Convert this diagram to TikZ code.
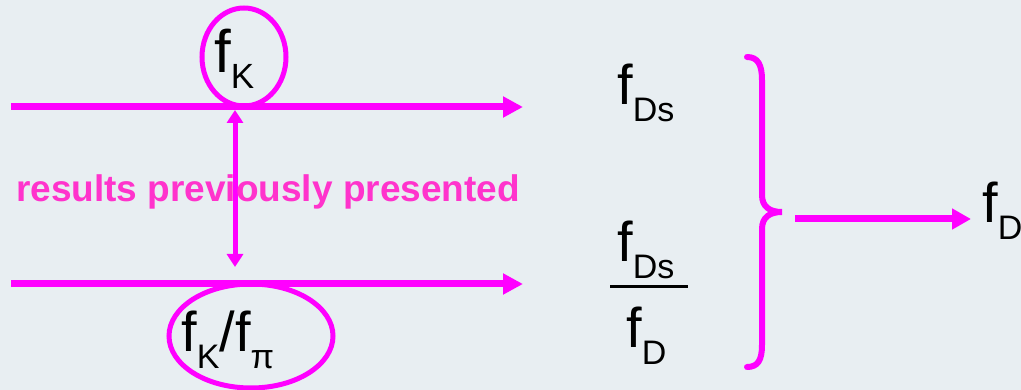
\documentclass[tikz,border=0pt]{standalone}
\usepackage{fontspec}
\setmainfont{Liberation Sans}
\usetikzlibrary{arrows.meta}
\definecolor{bg}{HTML}{E8EEF2}
\definecolor{mag}{HTML}{FF00FF}
\definecolor{magtext}{HTML}{FF33CC}
\newcommand\mainsz{\fontsize{56}{60}\selectfont}
\newcommand\subsz{\fontsize{34}{36}\selectfont}
\newcommand\fsb[1]{f\raisebox{-17pt}{\subsz #1}}
\begin{document}
\begin{tikzpicture}[x=1pt,y=-1pt,
  bigtext/.style={inner sep=0pt,anchor=base west,font=\mainsz,text=black},
  hline/.style={draw=mag,line width=7pt,-{Triangle[length=20pt,width=20pt]}},
  ring/.style={draw=mag,line width=5pt}]
\useasboundingbox[fill=bg] (0,0) rectangle (1021,390);
% horizontal lines
\coordinate (t0) at (11,107);
\coordinate (t1) at (523,107);
\coordinate (b0) at (11,284);
\coordinate (b1) at (523,284);
\draw[hline] (t0) -- (t1);
\draw[hline] (b0) -- (b1);
% ellipses
\draw[ring] (244,57) ellipse [x radius=42pt, y radius=49pt];
\draw[ring] (251,336) ellipse [x radius=82pt, y radius=52pt];
\node[bigtext,font=\fontsize{60}{62}\selectfont] (fk) at (214,73) {f\raisebox{-16pt}{\fontsize{35}{36}\selectfont K}};
\node[bigtext] (fkpi) at (181,352) {\fsb{K}/\fsb{π}};
% vertical double arrow
\coordinate (v0) at (235,110);
\coordinate (v1) at (235,267);
\draw[draw=mag,line width=5pt,{Triangle[length=13pt,width=16pt]}-{Triangle[length=13pt,width=16pt]}] (v0) -- (v1);
% label
\node[inner sep=0pt,anchor=base west,text=magtext,font=\fontsize{37}{40}\selectfont\bfseries] (res) at (16,202) {results previously presented};
% right column
\node[bigtext] (fds) at (617,105) {\fsb{Ds}};
\node[bigtext] (num) at (617,262) {\fsb{Ds}};
\node[bigtext] (den) at (626,348) {\fsb{D}};
\draw[line width=3pt] (610,287) -- (688,287);
% brace
\draw[mag,line width=6pt,line cap=round]
  (747,57) .. controls (758,57) and (762,65) .. (762,80) -- (762,195)
  .. controls (762,207) and (770,212) .. (782,212)
  .. controls (770,212) and (762,217) .. (762,229) -- (762,345)
  .. controls (762,360) and (758,367) .. (747,367);
\coordinate (br) at (795,219);
\node[bigtext] (fd) at (982,223) {\fsb{D}};
\draw[draw=mag,line width=7pt,-{Triangle[length=19pt,width=20pt]}] (br) -- (971,219);
\end{tikzpicture}
\end{document}
